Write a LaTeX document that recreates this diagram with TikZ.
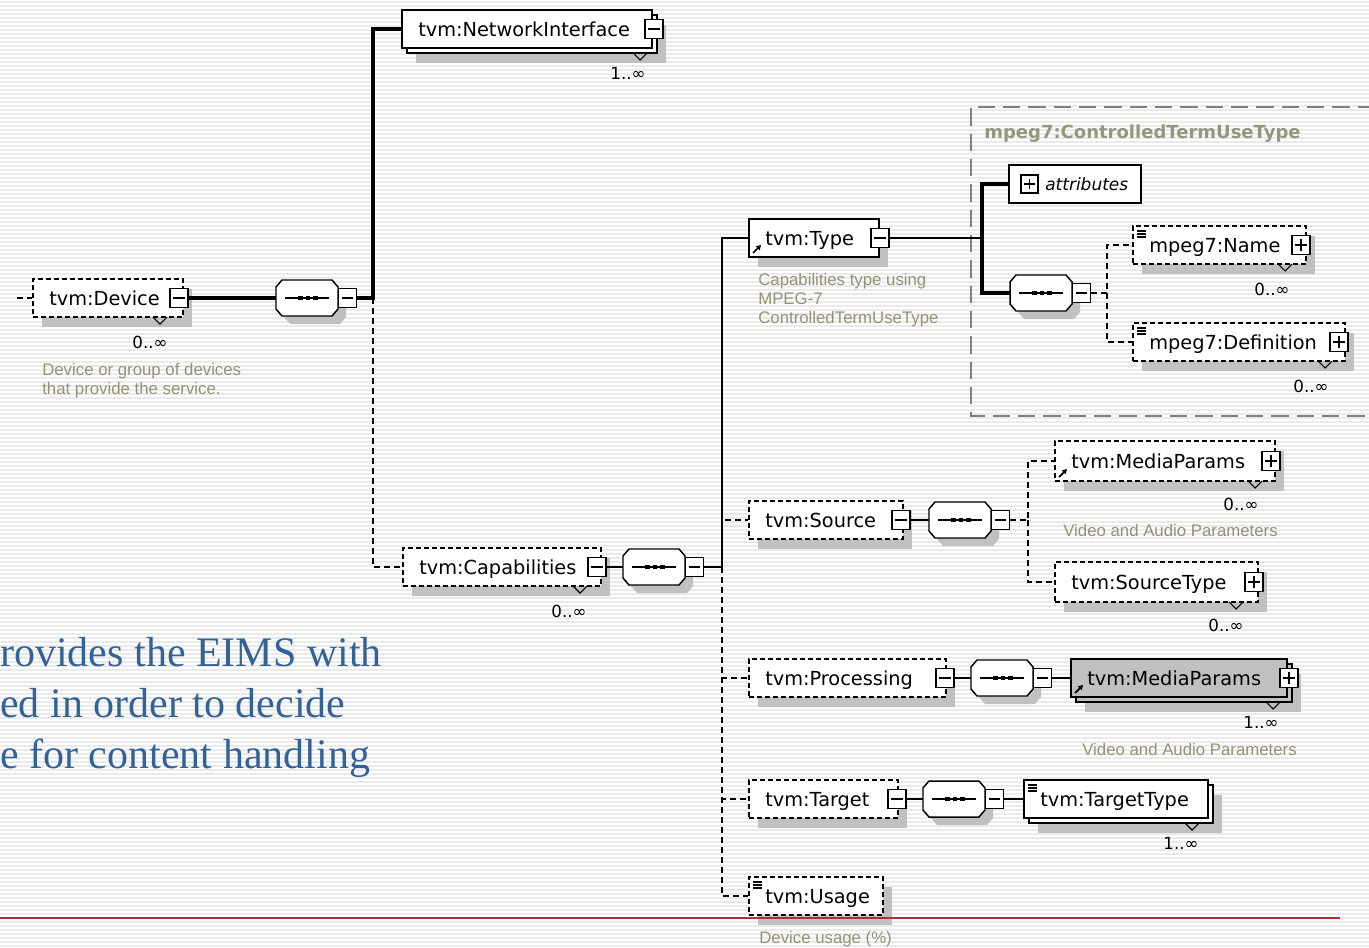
\documentclass[tikz,border=0pt]{standalone}
\usepackage{fontspec}
\setmainfont{DejaVu Sans}
\newfontfamily\descfont{Liberation Sans}
\newfontfamily\bigserif{Liberation Serif}
\usetikzlibrary{arrows.meta}
\definecolor{shadowc}{RGB}{192,192,192}
\definecolor{descc}{RGB}{150,146,118}
\definecolor{titlec}{RGB}{150,150,128}
\definecolor{bluec}{RGB}{50,98,152}
\definecolor{stripec}{RGB}{234,234,234}
\definecolor{boxgray}{RGB}{192,192,192}
\definecolor{redline}{RGB}{170,50,50}
\definecolor{frameg}{RGB}{128,128,128}
\tikzset{
 sbox/.style={draw, fill=white, line width=1.5pt, inner sep=0},
 dbox/.style={draw, fill=white, line width=1.8pt, dash pattern=on 3.5pt off 2.5pt, inner sep=0},
 xbox/.style={draw, fill=white, line width=1.1pt, minimum width=13.5pt, minimum height=14.5pt, inner sep=0},
 xsign/.style={line width=1.1pt},
 compline/.style={line width=1.1pt},
 etext/.style={font=\fontsize{14.5pt}{17pt}\selectfont, inner sep=0},
 mtext/.style={font=\fontsize{12.5pt}{14pt}\selectfont, inner sep=0, anchor=base},
 dtext/.style={font=\descfont\fontsize{12.6pt}{14.3pt}\selectfont, text=descc, inner sep=0, anchor=base west},
 conn/.style={line width=1.6pt},
 tconn/.style={line width=2.4pt},
 dconn/.style={line width=2pt, dash pattern=on 4.5pt off 3pt},
 notch/.style={line width=0.8pt},
 bigtext/.style={anchor=base west, inner sep=0, text=bluec, font=\bigserif\fontsize{31.5pt}{36pt}\selectfont},
}
\newcommand{\xelem}[7]{%
 \fill[shadowc] (#2+9,#3+10) rectangle (#4+9,#5+10);
 \node[#6, minimum width={(#4-#2)*0.75pt}, minimum height={(#5-#3)*0.75pt}] (#1) at ({(#2+#4)/2},{(#3+#5)/2}) {};
 \node[etext, anchor=base west] (#1t) at (#2+16,{(#3+#5)/2+7}) {#7};
}
\newcommand{\xstack}[7]{%
 \fill[shadowc] (#2+14,#3+15) rectangle (#4+14,#5+15);
 \draw[sbox,#6] (#2+5,#3+5) rectangle (#4+5,#5+5);
 \node[sbox,#6, minimum width={(#4-#2)*0.75pt}, minimum height={(#5-#3)*0.75pt}] (#1) at ({(#2+#4)/2},{(#3+#5)/2}) {};
 \node[etext, anchor=base west] (#1t) at (#2+16,{(#3+#5)/2+7}) {#7};
}
\newcommand{\xminus}[3]{\node[xbox] (#1) at (#2,#3) {};
 \draw[xsign] ([xshift=-4.2pt]#1.center) -- ([xshift=4.2pt]#1.center);}
\newcommand{\xplus}[3]{\xminus{#1}{#2}{#3}%
 \draw[xsign] ([yshift=-4.2pt]#1.center) -- ([yshift=4.2pt]#1.center);}
\newcommand{\xcomp}[3]{%
 \fill[shadowc] (#2+14,#3-10) -- (#2+64,#3-10) -- (#2+70,#3-3) -- (#2+70,#3+19) -- (#2+64,#3+26) -- (#2+14,#3+26) -- (#2+8,#3+19) -- (#2+8,#3-3) -- cycle;
 \filldraw[compline, fill=white] (#2+6,#3-18) -- (#2+56,#3-18) -- (#2+62,#3-11) -- (#2+62,#3+11) -- (#2+56,#3+18) -- (#2+6,#3+18) -- (#2,#3+11) -- (#2,#3-11) -- cycle;
 \draw[compline] (#2+9,#3) -- (#2+53,#3);
 \fill (#2+22,#3-2.2) rectangle (#2+26.5,#3+2.2);
 \fill (#2+29.5,#3-2.2) rectangle (#2+34,#3+2.2);
 \fill (#2+37,#3-2.2) rectangle (#2+41.5,#3+2.2);
 \node[inner sep=0, minimum width=46.5pt, minimum height=27pt] (#1) at (#2+31,#3) {};
 \xminus{#1x}{#2+71.5}{#3}%
}
\newcommand{\xnotch}[2]{\draw[notch] (#1-7,#2) -- (#1,#2+7) -- (#1+7,#2);}
\newcommand{\xlines}[2]{\draw[line width=0.8pt] (#1+4,#2+5) -- (#1+13,#2+5) (#1+4,#2+8) -- (#1+13,#2+8) (#1+4,#2+11) -- (#1+13,#2+11);}
\newcommand{\xref}[2]{\draw[line width=1.3pt, -{Triangle[length=3.5pt,width=4pt]}] (#1+4,#2-4) -- (#1+12,#2-12);}
\begin{document}
\begin{tikzpicture}[x=0.75pt,y=-0.75pt]
\useasboundingbox (0,0) rectangle (1369,947);
\fill[white] (0,0) rectangle (1369,947);
\foreach \yy in {2,6,...,946} \draw[stripec, line width=0.9pt] (0,\yy) -- (1369,\yy);

% mpeg7 frame
\draw[frameg, line width=2.2pt, dash pattern=on 13pt off 6pt] (1375,107) -- (971,107) -- (971,416) -- (1366,416);
\node[anchor=base west, font=\bfseries\fontsize{13.5pt}{16pt}\selectfont, text=titlec, inner sep=0] (mtitle) at (984,138) {mpeg7:ControlledTermUseType};

% NetworkInterface
\xstack{ni}{402}{10}{652}{48}{}{tvm:NetworkInterface}
\xminus{nix}{654}{29}
\xnotch{640}{53}
\node[mtext] (nim) at (628,79) {1..∞};

% Device
\xelem{dev}{33}{279}{183}{317}{dbox}{tvm:Device}
\xminus{devx}{179}{298}
\xnotch{160}{317}
\node[mtext] (devm) at (150,348) {0..∞};
\node[dtext] (devd1) at (42,375) {Device or group of devices};
\node[dtext] (devd2) at (42,394) {that provide the service.};
\xcomp{c1}{276}{298}

% Capabilities
\xelem{cap}{403}{548}{601}{586}{dbox}{tvm:Capabilities}
\xminus{capx}{597}{567}
\xnotch{580}{586}
\node[mtext] (capm) at (569,617) {0..∞};
\xcomp{c2}{623}{567}

% Type
\xelem{type}{749}{219}{879}{257}{sbox}{tvm:Type}
\xminus{typex}{880}{238}
\xref{749}{257}
\node[dtext] (typed1) at (758,285) {Capabilities type using};
\node[dtext] (typed2) at (758,304) {MPEG-7};
\node[dtext] (typed3) at (758,323) {ControlledTermUseType};

% attributes
\node[sbox, minimum width={132*0.75pt}, minimum height={38*0.75pt}] (attr) at (1075,184) {};
\node[xbox, minimum width=13pt, minimum height=13.5pt] (attrx) at (1029.5,184) {};
\draw[xsign] ([xshift=-4pt]attrx.center) -- ([xshift=4pt]attrx.center);
\draw[xsign] ([yshift=-4pt]attrx.center) -- ([yshift=4pt]attrx.center);
\node[anchor=base west, inner sep=0, font=\itshape\fontsize{12.75pt}{15pt}\selectfont] (attrt) at (1045,190) {attributes};

% mpeg7 sequence
\xcomp{c3}{1010}{293}
\xelem{name}{1133}{226}{1306}{264}{dbox}{mpeg7:Name}
\xplus{namex}{1301}{245}
\xlines{1133}{226}
\xnotch{1285}{264}
\node[mtext] (namem) at (1272,295) {0..∞};
\xelem{def}{1133}{323}{1345}{361}{dbox}{mpeg7:Definition}
\xplus{defx}{1339}{342}
\xlines{1133}{323}
\xnotch{1325}{361}
\node[mtext] (defm) at (1311,392) {0..∞};

% Source
\xelem{src}{749}{501}{903}{539}{dbox}{tvm:Source}
\xminus{srcx}{901}{520}
\xcomp{c4}{929}{520}
\xelem{mpS}{1055}{441}{1275}{481}{dbox}{tvm:MediaParams}
\xplus{mpSx}{1271}{461}
\xref{1055}{481}
\xnotch{1255}{481}
\node[mtext] (mpSm) at (1241,510) {0..∞};
\node[dtext] (mpSd) at (1063,536) {Video and Audio Parameters};
\xelem{styp}{1055}{562}{1258}{602}{dbox}{tvm:SourceType}
\xplus{stypx}{1254}{582}
\xnotch{1236}{602}
\node[mtext] (stypm) at (1226,631) {0..∞};

% Processing
\xelem{proc}{749}{659}{946}{697}{dbox}{tvm:Processing}
\xminus{procx}{945}{678}
\xcomp{c5}{971}{678}
\xstack{mpP}{1071}{659}{1287}{697}{fill=boxgray}{tvm:MediaParams}
\xplus{mpPx}{1289}{678}
\xref{1071}{697}
\xnotch{1273}{702}
\node[mtext] (mpPm) at (1261,728) {1..∞};
\node[dtext] (mpPd) at (1082,755) {Video and Audio Parameters};

% Target
\xelem{tgt}{749}{780}{898}{818}{dbox}{tvm:Target}
\xminus{tgtx}{897}{799}
\xcomp{c6}{923}{799}
\xstack{ttyp}{1024}{780}{1208}{818}{}{tvm:TargetType}
\xlines{1024}{780}
\xnotch{1192}{823}
\node[mtext] (ttypm) at (1181,849) {1..∞};

% Usage
\xelem{use}{749}{877}{883}{915}{dbox}{tvm:Usage}
\xlines{749}{877}
\node[dtext] (used) at (759,943) {Device usage (\%)};

% connectors level 1
\coordinate (devin) at (17,298);
\draw[dconn] (devin) -- (dev.west);
\draw[tconn] (devx.east) -- (c1.west);
\coordinate (J1) at (373,298);
\draw[dconn] (J1) |- (cap.west);
\draw[tconn] (c1x.east) -- (J1) |- (ni.west);

% level 2
\coordinate (J2) at (722,567);
\draw[conn] (capx.east) -- (c2.west);
\draw[dconn] (J2) |- (src.west);
\draw[dconn] (J2) |- (proc.west);
\draw[dconn] (J2) |- (tgt.west);
\draw[dconn] (J2) |- (use.west);
\draw[conn] (c2x.east) -- (J2) |- (type.west);

% Type -> mpeg7
\coordinate (J3) at (982,238);
\draw[conn] (typex.east) -- (J3);
\draw[tconn] (J3) |- (attr.west);
\draw[tconn] (J3) |- (c3.west);
\coordinate (J4) at (1107,293);
\draw[dconn] (c3x.east) -- (J4) |- (name.west);
\draw[dconn] (J4) |- (def.west);

% Source
\draw[conn] (srcx.east) -- (c4.west);
\coordinate (J5) at (1028,520);
\draw[dconn] (c4x.east) -- (J5) |- (mpS.west);
\draw[dconn] (J5) |- (styp.west);

% Processing, Target
\draw[conn] (procx.east) -- (c5.west);
\draw[conn] (c5x.east) -- (mpP.west);
\draw[conn] (tgtx.east) -- (c6.west);
\draw[conn] (c6x.east) -- (ttyp.west);

% slide text
\node[bigtext] (b1) at (0,666) {rovides the EIMS with};
\node[bigtext] (b2) at (0,717) {ed in order to decide};
\node[bigtext] (b3) at (0,768) {e for content handling};

\draw[redline, line width=0.8pt] (0,918) -- (1340,918);
\end{tikzpicture}
\end{document}
